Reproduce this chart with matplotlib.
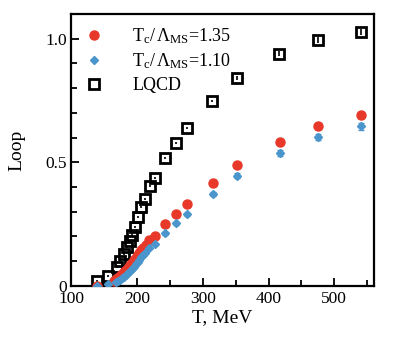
import matplotlib
matplotlib.use("Agg")
import matplotlib.pyplot as plt
from matplotlib.ticker import MultipleLocator, FixedFormatter, FixedLocator

plt.rcParams['font.family'] = ['Liberation Serif', 'DejaVu Serif']
plt.rcParams['mathtext.fontset'] = 'custom'
plt.rcParams['mathtext.rm'] = 'Liberation Serif'
plt.rcParams['mathtext.it'] = 'Liberation Serif:italic'

# Tc/Lambda = 1.35 (red circles)
t_red = [140, 165, 168, 171, 174, 177, 180, 183, 186, 189, 192, 195, 198, 201,
         204, 207, 210, 214, 219, 228, 243, 259.5, 276, 315, 351.5, 417, 475, 541]
y_red = [0.0, 0.02, 0.026, 0.033, 0.04, 0.047, 0.056, 0.064, 0.074, 0.084, 0.094,
         0.104, 0.114, 0.124, 0.134, 0.145, 0.155, 0.167, 0.184, 0.202, 0.25, 0.29,
         0.332, 0.416, 0.49, 0.583, 0.645, 0.69]
e_red = [0.004] * 20 + [0.005, 0.005, 0.006, 0.006, 0.008, 0.01, 0.01, 0.012]

# Tc/Lambda = 1.10 (blue diamonds)
t_blue = [140, 156, 168, 171, 174, 177, 180, 183, 186, 189, 192, 195, 198, 201,
          204, 207, 210, 213, 219, 228, 243, 259.5, 276, 315, 351.5, 417, 475, 541]
y_blue = [0.0, 0.008, 0.015, 0.019, 0.024, 0.03, 0.037, 0.044, 0.052, 0.06, 0.069,
          0.078, 0.087, 0.097, 0.106, 0.115, 0.125, 0.135, 0.154, 0.17, 0.213, 0.254,
          0.289, 0.372, 0.445, 0.537, 0.602, 0.645]
e_blue = [0.004] * 20 + [0.006, 0.006, 0.007, 0.008, 0.01, 0.012, 0.013, 0.014]

# lattice QCD (open squares)
t_lqcd = [140, 156, 170, 175, 180, 185, 189, 192, 197, 201, 206, 212, 220, 228,
          243.4, 259, 275.8, 314.6, 351.5, 416, 474.7, 541]
y_lqcd = [0.02, 0.042, 0.078, 0.10, 0.13, 0.159, 0.183, 0.206, 0.238, 0.28, 0.32,
          0.352, 0.406, 0.438, 0.518, 0.58, 0.638, 0.749, 0.84, 0.939, 0.996, 1.027]
e_lqcd = [0.004] * 17 + [0.005, 0.008, 0.01, 0.012, 0.012]

fig = plt.figure(figsize=(3.99, 3.42), dpi=100)
ax = fig.add_axes([0.178, 0.164, 0.759, 0.795])

red = '#e8382a'
blue = '#4a96cc'

ax.errorbar(t_lqcd, y_lqcd, yerr=e_lqcd, fmt='s', ms=6.8, mfc='none', mec='black',
            mew=2.0, ecolor='black', elinewidth=1.2, capsize=0, label='LQCD', zorder=2)
ax.errorbar(t_red, y_red, yerr=e_red, fmt='o', ms=6.5, color=red, mec=red,
            ecolor=red, elinewidth=1.2, capsize=2, capthick=1.0,
            label=r'T$_{\rm c}$/$\,\Lambda_{\rm MS}$=1.35', zorder=3)
ax.errorbar(t_blue, y_blue, yerr=e_blue, fmt='D', ms=4.5, color=blue, mec=blue,
            ecolor=blue, elinewidth=1.2, capsize=2, capthick=1.0,
            label=r'T$_{\rm c}$/$\,\Lambda_{\rm MS}$=1.10', zorder=4)

ax.set_xlim(100, 560)
ax.set_ylim(0, 1.1)
ax.xaxis.set_major_locator(MultipleLocator(100))
ax.xaxis.set_minor_locator(MultipleLocator(50))
ax.yaxis.set_major_locator(FixedLocator([0, 0.5, 1.0]))
ax.yaxis.set_major_formatter(FixedFormatter(['0', '0.5', '1.0']))
ax.yaxis.set_minor_locator(MultipleLocator(0.1))
ax.tick_params(which='both', direction='in', top=False, right=False,
               labelsize=12.5, width=1.3)
ax.tick_params(which='major', length=6)
ax.tick_params(axis='x', which='major', pad=4)
ax.tick_params(axis='y', which='major', pad=3)
ax.tick_params(which='minor', length=4)
for s in ax.spines.values():
    s.set_linewidth(1.6)

ax.set_xlabel('T, MeV', fontsize=14, labelpad=1)
ax.set_ylabel('Loop', fontsize=14, labelpad=14)

handles, labels = ax.get_legend_handles_labels()
order = [1, 2, 0]
leg = ax.legend([handles[i][0] for i in order], [labels[i] for i in order],
                loc='upper left', frameon=False, fontsize=13,
                handletextpad=1.6, borderaxespad=0.3, labelspacing=0.3,
                handlelength=1.0, bbox_to_anchor=(0.005, 1.0))

fig.savefig('out.png', dpi=100)
